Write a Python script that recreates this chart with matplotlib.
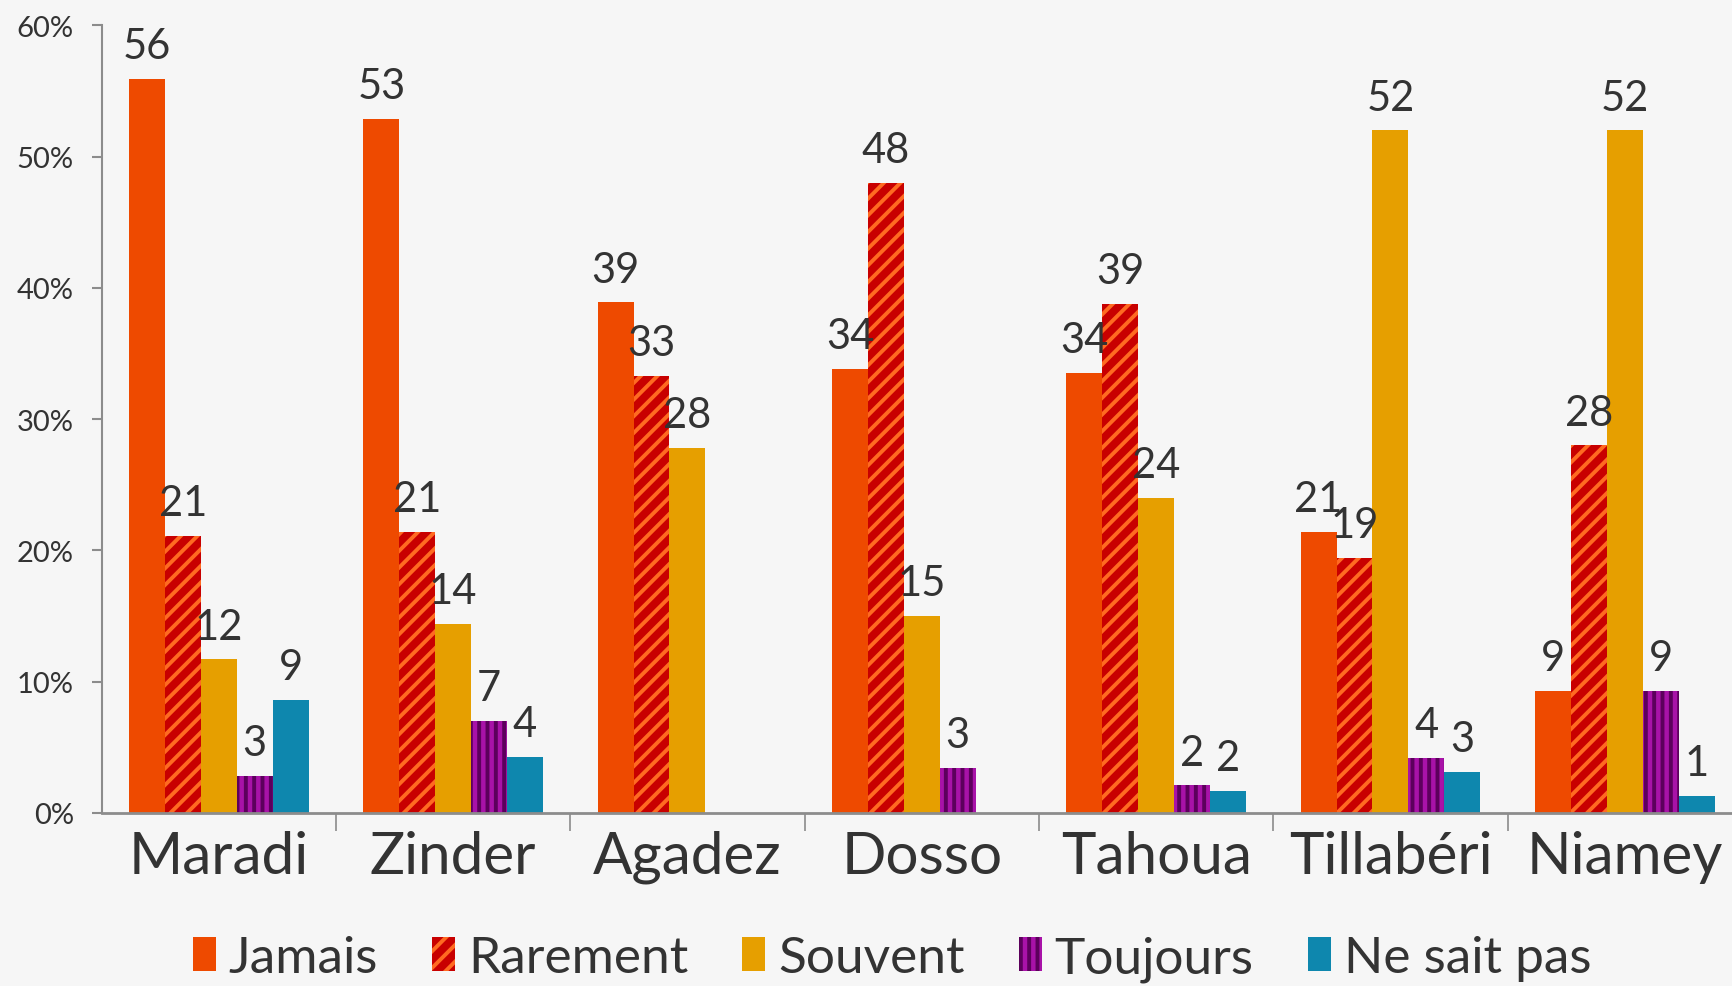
import numpy as np
import matplotlib
matplotlib.use('Agg')
import matplotlib.pyplot as plt
from matplotlib.patches import Patch

# --- Données -------------------------------------------------
regions = ["Maradi", "Zinder", "Agadez", "Dosso", "Tahoua", "Tillabéri", "Niamey"]
series = ["Jamais", "Rarement", "Souvent", "Toujours", "Ne sait pas"]

jamais      = [55.9, 52.9, 38.9, 33.8, 33.5, 21.4, 9.3]
rarement    = [21.1, 21.4, 33.3, 48.0, 38.8, 19.4, 28.0]
souvent     = [11.7, 14.4, 27.8, 15.0, 24.0, 52.0, 52.0]
toujours    = [2.8, 7.0, np.nan, 3.4, 2.1, 4.2, 9.3]
ne_sait_pas = [8.6, 4.3, np.nan, np.nan, 1.7, 3.1, 1.3]

valeurs = [jamais, rarement, souvent, toujours, ne_sait_pas]

# --- Styles --------------------------------------------------
couleurs = ["#EE4A00", "#C80000", "#E69F00", "#A812A8", "#0E87AE"]
hachures = [None, "//", None, "||", None]
coul_hach = ["#EE4A00", "#FF6A21", "#E69F00", "#5C005C", "#0E87AE"]

plt.rcParams['font.family'] = ['Lato', 'DejaVu Sans']
plt.rcParams['hatch.linewidth'] = 2.8
texte = "#333333"
gris = "#8C8C8C"

fig = plt.figure(figsize=(17.32, 9.87), dpi=100, facecolor="#F6F6F6")
ax = fig.add_axes([0.0587, 0.1753, 1.0057 - 0.0587, 0.9732 - 0.1753])
ax.set_facecolor("none")

x = np.arange(len(regions))
largeur = 0.1533
for i, (vals, nom) in enumerate(zip(valeurs, series)):
    pos = x + (i - 2) * largeur
    ax.bar(pos, vals, width=largeur, color=couleurs[i],
           hatch=hachures[i], edgecolor=coul_hach[i],
           linewidth=0, label=nom, zorder=2)
    for xp, v in zip(pos, vals):
        if np.isnan(v):
            continue
        ax.annotate(f"{v:.0f}", (xp, v), xytext=(0, 10),
                    textcoords="offset points", ha="center", va="bottom",
                    fontsize=30, color=texte, zorder=3)

# --- Axes ----------------------------------------------------
ax.set_xlim(-0.5, len(regions) - 0.5)
ax.set_ylim(0, 60)
ax.set_yticks(np.arange(0, 61, 10))
ax.set_yticklabels([f"{t}%" for t in range(0, 61, 10)])
ax.tick_params(axis="y", length=7, width=1.5, color=gris, pad=13,
               labelsize=21, labelcolor=texte)

ax.set_xticks(x)
ax.set_xticklabels(regions)
ax.set_xticks(np.arange(0.5, len(regions) - 0.5, 1), minor=True)
ax.tick_params(axis="x", which="major", length=0, pad=12,
               labelsize=42, labelcolor=texte)
ax.tick_params(axis="x", which="minor", length=13, width=1.2, color=gris)

for s in ["top", "right"]:
    ax.spines[s].set_visible(False)
ax.spines["left"].set_color(gris)
ax.spines["left"].set_linewidth(1.5)
ax.spines["bottom"].set_color(gris)
ax.spines["bottom"].set_linewidth(2)

# --- Légende -------------------------------------------------
poignees = [Patch(facecolor=couleurs[i], hatch=hachures[i],
                  edgecolor=coul_hach[i], linewidth=0)
            for i in range(len(series))]
fig.legend(poignees, series, loc="center", bbox_to_anchor=(0.515, 0.028),
           ncol=5, frameon=False, fontsize=37, labelcolor=texte,
           handlelength=0.45, handleheight=0.65, handletextpad=0.25,
           columnspacing=1.05, borderpad=0.1)

plt.savefig("out.png", dpi=100, facecolor=fig.get_facecolor())
